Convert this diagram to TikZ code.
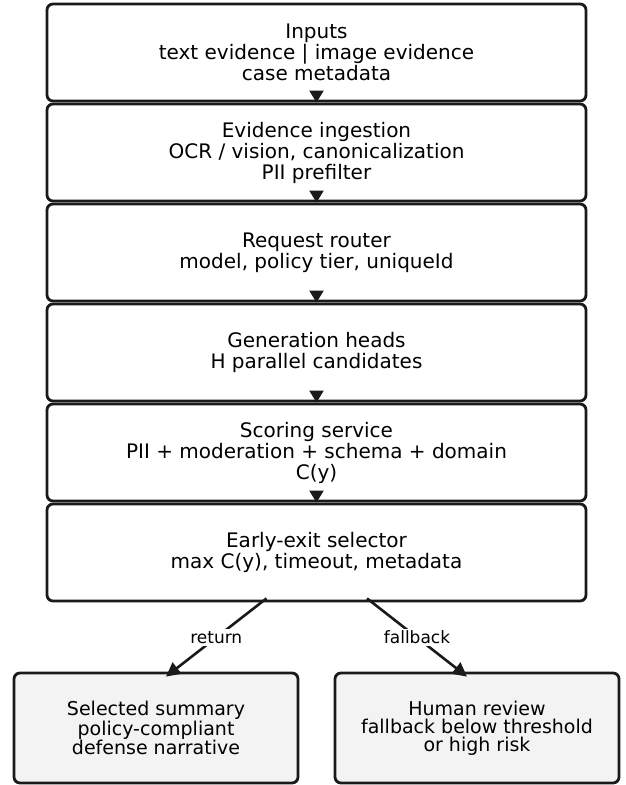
\documentclass[tikz,border=0pt]{standalone}
\usepackage{fontspec}
\setmainfont{DejaVu Sans}
\usetikzlibrary{arrows.meta,calc}
\definecolor{edge}{HTML}{1A1A1A}
\definecolor{lightfill}{HTML}{F3F3F3}
\tikzset{
  mainbox/.style={draw=edge, line width=2.8pt, rounded corners=6pt, fill=white,
    minimum width=539pt, minimum height=97pt, align=center, inner sep=0pt,
    font=\fontsize{20}{21}\selectfont},
  outbox/.style={draw=edge, line width=2.8pt, rounded corners=6pt, fill=lightfill,
    minimum width=284pt, minimum height=110pt, align=center, inner sep=0pt,
    font=\fontsize{19}{18}\selectfont},
  arr/.style={draw=edge, line width=2pt, -{Triangle[length=12pt,width=14pt]}},
  sarr/.style={draw=edge, line width=2.6pt, -{Triangle[length=14pt,width=14pt]}},
  lbl/.style={fill=white, inner sep=2pt, font=\fontsize{17}{19}\selectfont}
}
\begin{document}
\begin{tikzpicture}[x=1pt,y=-1pt]
\useasboundingbox (0,0) rectangle (626,785);
\node[mainbox] (b1) at (316.5,52.5) {Inputs\\text evidence | image evidence\\case metadata};
\node[mainbox] (b2) at (316.5,152.5) {Evidence ingestion\\OCR / vision, canonicalization\\PII prefilter};
\node[mainbox] (b3) at (316.5,252.5) {Request router\\model, policy tier, uniqueId};
\node[mainbox] (b4) at (316.5,352.5) {Generation heads\\H parallel candidates};
\node[mainbox] (b5) at (316.5,452.5) {Scoring service\\PII + moderation + schema + domain\\C(y)};
\node[mainbox] (b6) at (316.5,552.5) {Early-exit selector\\max C(y), timeout, metadata};
\node[outbox] (o1) at (156,728) {Selected summary\\policy-compliant\\defense narrative};
\node[outbox] (o2) at (477,728) {Human review\\fallback below threshold\\or high risk};
\draw[arr] (b1.south) -- (b2.north);
\draw[arr] (b2.south) -- (b3.north);
\draw[arr] (b3.south) -- (b4.north);
\draw[arr] (b4.south) -- (b5.north);
\draw[arr] (b5.south) -- (b6.north);
\coordinate (s1) at ($(b6.south)+(-50,-4)$);
\coordinate (s2) at ($(b6.south)+(50.5,-4)$);
\coordinate (t1) at ($(o1.north)+(10,5)$);
\coordinate (t2) at ($(o2.north)+(-10,5)$);
\draw[sarr] (s1) -- node[lbl] {return} (t1);
\draw[sarr] (s2) -- node[lbl] {fallback} (t2);
\end{tikzpicture}
\end{document}
